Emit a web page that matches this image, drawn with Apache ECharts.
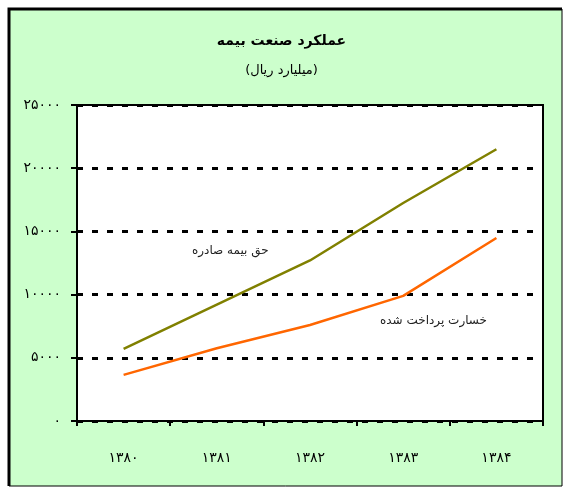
<!DOCTYPE html>
<html>
<head>
    <meta charset="utf-8">
    <title>ECharts</title>
    <script src="https://cdn.jsdelivr.net/npm/echarts@6/dist/echarts.min.js"></script>
    <style>
        body { margin: 0; background: #fff; }
    </style>
</head>
<body>
    <div id="main" style="width: 563px;height:488px;"></div>
    <script type="text/javascript">
        var years = ['۱۳۸۰', '۱۳۸۱', '۱۳۸۲', '۱۳۸۳', '۱۳۸۴'];
        // حق بیمه صادره
        var premiums = [5700, 9200, 12700, 17250, 21500];
        // خسارت پرداخت شده
        var claims = [3650, 5750, 7600, 9900, 14480];
        var yTickValues = [0, 5000, 10000, 15000, 20000, 25000];
        var yTickLabels = ['۰', '۵۰۰۰', '۱۰۰۰۰', '۱۵۰۰۰', '۲۰۰۰۰', '۲۵۰۰۰'];

        var font = '"DejaVu Sans", sans-serif';
        var myChart = echarts.init(document.getElementById('main'));

        var option = {
            backgroundColor: '#ffffff',
            animation: false,
            title: {
                text: 'عملکرد صنعت بیمه',
                subtext: '(میلیارد ریال)',
                left: 'center',
                top: 29,
                itemGap: 16,
                textStyle: { fontFamily: font, fontSize: 14, fontWeight: 'bold', color: '#000' },
                subtextStyle: { fontFamily: font, fontSize: 13, color: '#000' }
            },
            graphic: [
                {
                    type: 'rect', z: -100, silent: true,
                    shape: { x: 9, y: 9, width: 553, height: 477 },
                    style: { fill: '#CCFFCC', stroke: '#000', lineWidth: 1 }
                },
                {
                    type: 'polyline', z: -90, silent: true,
                    shape: { points: [[9, 486], [9, 9], [562, 9]] },
                    style: { stroke: '#000', lineWidth: 3, fill: null }
                },
                {
                    type: 'text', left: 192, top: 245,
                    style: { text: 'حق بیمه صادره', font: '12px ' + font, fill: '#222' }
                },
                {
                    type: 'text', left: 380, top: 315,
                    style: { text: 'خسارت پرداخت شده', font: '12px ' + font, fill: '#222' }
                }
            ],
            grid: {
                left: 77, right: 20, top: 105, bottom: 67,
                show: true,
                backgroundColor: '#ffffff',
                borderColor: '#000',
                borderWidth: 2
            },
            xAxis: {
                type: 'category',
                data: years,
                boundaryGap: true,
                axisLine: { lineStyle: { color: '#000', width: 2 } },
                axisTick: { show: true, length: 5, lineStyle: { color: '#000', width: 2 } },
                axisLabel: { margin: 30, fontFamily: font, fontSize: 14, color: '#000' }
            },
            yAxis: {
                type: 'value',
                min: 0, max: 25000, interval: 5000,
                axisLine: { show: true, lineStyle: { color: '#000', width: 2 } },
                axisTick: { show: true, length: 6, lineStyle: { color: '#000', width: 2 } },
                axisLabel: {
                    margin: 16, fontFamily: font, fontSize: 14, color: '#000',
                    formatter: function (v) {
                        var i = yTickValues.indexOf(v);
                        return i >= 0 ? yTickLabels[i] : '';
                    }
                },
                splitLine: { show: true, lineStyle: { color: '#000', width: 3, type: [6, 9] } }
            },
            series: [
                {
                    name: 'حق بیمه صادره',
                    type: 'line',
                    data: premiums,
                    symbol: 'none',
                    lineStyle: { color: '#808000', width: 2.5 },
                    itemStyle: { color: '#808000' }
                },
                {
                    name: 'خسارت پرداخت شده',
                    type: 'line',
                    data: claims,
                    symbol: 'none',
                    lineStyle: { color: '#FF6600', width: 2.5 },
                    itemStyle: { color: '#FF6600' }
                }
            ]
        };

        myChart.setOption(option);
    </script>
</body>
</html>
